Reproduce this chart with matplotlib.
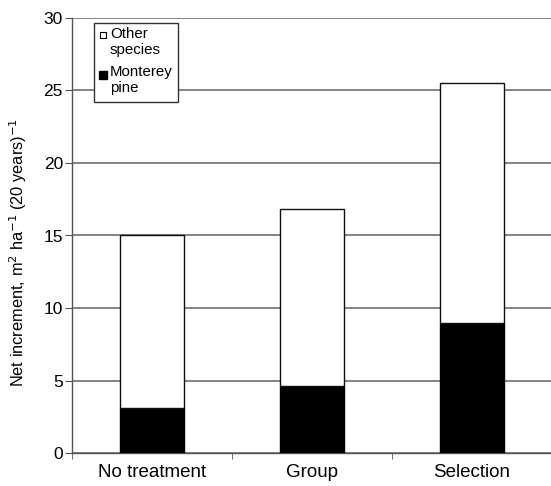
import numpy as np
import matplotlib.pyplot as plt
from matplotlib.patches import Rectangle

plt.rcParams['font.family'] = ['Liberation Sans', 'DejaVu Sans']

treatments = ['No treatment', 'Group', 'Selection']
monterey_pine = np.array([3.1, 4.65, 8.95])
total_increment = np.array([15.0, 16.8, 25.5])
other_species = total_increment - monterey_pine

W, H = 551, 486
fig = plt.figure(figsize=(W / 100, H / 100), dpi=100)
# axis runs just past the right edge of the figure
ax = fig.add_axes([72 / W, 1 - 453 / H, 480 / W, 435 / H])

x = np.arange(len(treatments))
ax.bar(x, monterey_pine, width=0.4, color='black', edgecolor='black',
       linewidth=1.0, zorder=3)
ax.bar(x, other_species, width=0.4, bottom=monterey_pine, color='white',
       edgecolor='#111111', linewidth=1.0, zorder=3)

ax.set_xlim(-0.5, 2.5)
ax.set_ylim(0, 30)
ax.set_yticks(np.arange(0, 31, 5))
ax.yaxis.grid(True, color='#6e6e6e', linewidth=1.2, zorder=0)
ax.set_axisbelow(True)

for s in ['top', 'right']:
    ax.spines[s].set_visible(False)
for s in ['left', 'bottom']:
    ax.spines[s].set_color('#555555')
    ax.spines[s].set_linewidth(1.0)

ax.set_xticks(x)
ax.set_xticklabels(treatments, fontsize=13.5)
ax.set_xticks([-0.5, 0.5, 1.5, 2.5], minor=True)
ax.tick_params(axis='x', which='major', length=0, pad=8)
ax.tick_params(axis='x', which='minor', length=4, color='#555555')
ax.tick_params(axis='y', length=5, color='#555555', labelsize=12.5, pad=1.5)

ax.set_ylabel('Net increment, m$^{2}$ ha$^{-1}$ (20 years)$^{-1}$',
              fontsize=11.8)
ax.yaxis.set_label_coords(-0.09, 0.46)


def fx(px):
    return px / W


def fy(py):
    return 1 - py / H


# legend box drawn by hand so the markers sit on the first text line
fig.patches.append(Rectangle((fx(94), fy(102)), fx(178) - fx(94),
                             fy(23) - fy(102), transform=fig.transFigure,
                             facecolor='white', edgecolor='#333333',
                             linewidth=1.0, zorder=5))
fig.lines.append(plt.Line2D([fx(103)], [fy(35)], marker='s', markersize=4.6,
                            markerfacecolor='white', markeredgecolor='black',
                            markeredgewidth=0.8, transform=fig.transFigure,
                            zorder=6))
fig.lines.append(plt.Line2D([fx(103)], [fy(75)], marker='s', markersize=5.2,
                            markerfacecolor='black', markeredgecolor='black',
                            transform=fig.transFigure, zorder=6))
fig.text(fx(110), fy(27), 'Other\nspecies', fontsize=10.8, va='top',
         ha='left', linespacing=1.2, zorder=7)
fig.text(fx(110), fy(65), 'Monterey\npine', fontsize=10.8, va='top',
         ha='left', linespacing=1.2, zorder=7)

fig.savefig('out.png', dpi=100)
